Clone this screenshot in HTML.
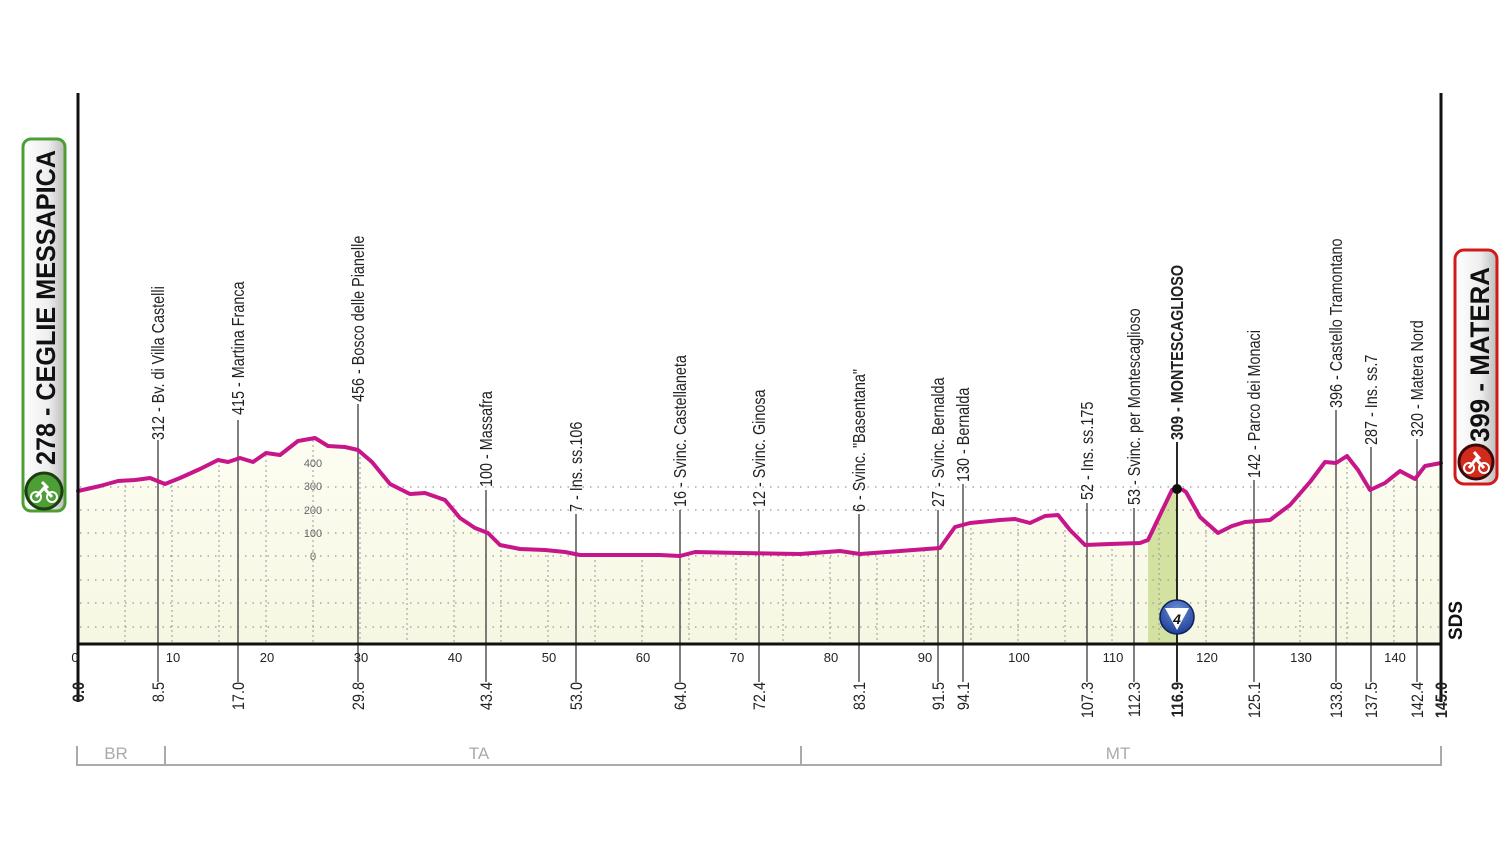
<!DOCTYPE html>
<html><head><meta charset="utf-8"><style>
html,body{margin:0;padding:0;background:#fff;}
svg{display:block}
.l{font-family:"Liberation Sans Narrow","Liberation Sans",sans-serif;font-size:18px;fill:#222;}
.t{font-family:"Liberation Sans Narrow","Liberation Sans",sans-serif;font-size:13px;fill:#222;}
.k{font-family:"Liberation Sans Narrow","Liberation Sans",sans-serif;font-size:17px;fill:#222;}
.r{font-family:"Liberation Sans Narrow","Liberation Sans",sans-serif;font-size:17px;fill:#aaa;}
.y{font-family:"Liberation Sans Narrow","Liberation Sans",sans-serif;font-size:11px;fill:#666;}
</style></head><body>
<svg width="1508" height="862" viewBox="0 0 1508 862" xmlns="http://www.w3.org/2000/svg">
<defs>
<linearGradient id="fg" x1="0" y1="0" x2="0" y2="1"><stop offset="0" stop-color="#fdfdf2"/><stop offset="1" stop-color="#f6f7e2"/></linearGradient>
<linearGradient id="bg" x1="0" y1="0" x2="1" y2="0"><stop offset="0" stop-color="#fff"/><stop offset="0.6" stop-color="#eee"/><stop offset="1" stop-color="#bbb"/></linearGradient>
<radialGradient id="bl" cx="0.5" cy="0.3" r="0.7"><stop offset="0" stop-color="#6b8fd8"/><stop offset="1" stop-color="#1f3f95"/></radialGradient>
</defs>
<path d="M78,644 L78,491 L100,486 L118,481 L135,480 L150,478 L165,484 L180,478 L200,469 L218,460 L228,462 L240,458 L253,462 L266,453 L280,455 L298,441 L315,438 L328,446 L345,447 L358,450 L372,462 L390,484 L410,494 L425,493 L445,500 L460,518 L475,528 L488,533 L500,545 L520,549 L545,550 L565,552 L580,555 L620,555 L660,555 L680,556 L695,552 L740,553 L800,554 L840,551 L860,554 L900,551 L940,548 L955,527 L970,523 L1000,520 L1015,519 L1030,523 L1045,516 L1058,515 L1070,530 L1085,545 L1110,544 L1140,543 L1148,540 L1160,515 L1172,490 L1186,492 L1200,517 L1218,533 L1232,526 L1245,522 L1270,520 L1290,505 L1310,482 L1325,462 L1336,463 L1347,456 L1358,470 L1370,490 L1385,483 L1400,471 L1415,479 L1425,466 L1441,463 L1441,644 Z" fill="url(#fg)"/>
<path d="M1148,644 L1148,540 L1160,515 L1172,490 L1177,489 L1177,644 Z" fill="#d3e2a0"/>
<g stroke="#999" stroke-width="1.2" stroke-dasharray="1.5,6">
<line x1="80" y1="487" x2="1440" y2="487"/><line x1="80" y1="510" x2="1440" y2="510"/><line x1="80" y1="533" x2="1440" y2="533"/><line x1="80" y1="556" x2="1440" y2="556"/><line x1="80" y1="580" x2="1440" y2="580"/><line x1="80" y1="603" x2="1440" y2="603"/><line x1="80" y1="627" x2="1440" y2="627"/>
</g>
<g stroke="#999" stroke-width="1" stroke-dasharray="2,3">
<line x1="125" y1="480" x2="125" y2="644"/><line x1="172" y1="480" x2="172" y2="644"/><line x1="219" y1="465" x2="219" y2="644"/><line x1="266" y1="455" x2="266" y2="644"/><line x1="313" y1="440" x2="313" y2="644"/><line x1="360" y1="452" x2="360" y2="644"/><line x1="407" y1="493" x2="407" y2="644"/><line x1="454" y1="505" x2="454" y2="644"/><line x1="501" y1="545" x2="501" y2="644"/><line x1="548" y1="550" x2="548" y2="644"/><line x1="595" y1="555" x2="595" y2="644"/><line x1="642" y1="555" x2="642" y2="644"/><line x1="689" y1="553" x2="689" y2="644"/><line x1="736" y1="553" x2="736" y2="644"/><line x1="783" y1="554" x2="783" y2="644"/><line x1="830" y1="552" x2="830" y2="644"/><line x1="877" y1="553" x2="877" y2="644"/><line x1="924" y1="550" x2="924" y2="644"/><line x1="971" y1="523" x2="971" y2="644"/><line x1="1018" y1="519" x2="1018" y2="644"/><line x1="1065" y1="525" x2="1065" y2="644"/><line x1="1112" y1="544" x2="1112" y2="644"/><line x1="1159" y1="518" x2="1159" y2="644"/><line x1="1206" y1="525" x2="1206" y2="644"/><line x1="1253" y1="522" x2="1253" y2="644"/><line x1="1300" y1="495" x2="1300" y2="644"/><line x1="1347" y1="457" x2="1347" y2="644"/><line x1="1394" y1="475" x2="1394" y2="644"/>
</g>
<g class="y" text-anchor="middle"><text x="313" y="467">400</text><text x="313" y="490">300</text><text x="313" y="514">200</text><text x="313" y="537">100</text><text x="313" y="560">0</text></g>
<g stroke="#555" stroke-width="1.5">
<line x1="158" y1="440" x2="158" y2="682"/><line x1="238" y1="420" x2="238" y2="682"/><line x1="358" y1="404" x2="358" y2="682"/><line x1="486" y1="490" x2="486" y2="682"/><line x1="576" y1="514" x2="576" y2="682"/><line x1="680" y1="510" x2="680" y2="682"/><line x1="759" y1="510" x2="759" y2="682"/><line x1="859" y1="514" x2="859" y2="682"/><line x1="938" y1="510" x2="938" y2="682"/><line x1="963" y1="484" x2="963" y2="682"/><line x1="1087" y1="503" x2="1087" y2="682"/><line x1="1134" y1="508" x2="1134" y2="682"/><line x1="1254" y1="480" x2="1254" y2="682"/><line x1="1336" y1="410" x2="1336" y2="682"/><line x1="1371" y1="447" x2="1371" y2="682"/><line x1="1417" y1="439" x2="1417" y2="682"/>
</g>
<line x1="1177" y1="442" x2="1177" y2="682" stroke="#111" stroke-width="1.8"/>
<g class="l">
<text transform="translate(164,440) rotate(-90) scale(0.8,1)">312 - Bv. di Villa Castelli</text>
<text transform="translate(244,415) rotate(-90) scale(0.8,1)">415 - Martina Franca</text>
<text transform="translate(364,402) rotate(-90) scale(0.8,1)">456 - Bosco delle Pianelle</text>
<text transform="translate(492,487) rotate(-90) scale(0.8,1)">100 - Massafra</text>
<text transform="translate(582,512) rotate(-90) scale(0.8,1)">7 - Ins. ss.106</text>
<text transform="translate(686,507) rotate(-90) scale(0.8,1)">16 - Svinc. Castellaneta</text>
<text transform="translate(765,507) rotate(-90) scale(0.8,1)">12 - Svinc. Ginosa</text>
<text transform="translate(865,512) rotate(-90) scale(0.8,1)">6 - Svinc. "Basentana"</text>
<text transform="translate(944,507) rotate(-90) scale(0.8,1)">27 - Svinc. Bernalda</text>
<text transform="translate(969,482) rotate(-90) scale(0.8,1)">130 - Bernalda</text>
<text transform="translate(1093,500) rotate(-90) scale(0.8,1)">52 - Ins. ss.175</text>
<text transform="translate(1140,505) rotate(-90) scale(0.8,1)">53 - Svinc. per Montescaglioso</text>
<text transform="translate(1183,440) rotate(-90) scale(0.8,1)" font-weight="bold">309 - MONTESCAGLIOSO</text>
<text transform="translate(1260,478) rotate(-90) scale(0.8,1)">142 - Parco dei Monaci</text>
<text transform="translate(1342,408) rotate(-90) scale(0.8,1)">396 - Castello Tramontano</text>
<text transform="translate(1377,445) rotate(-90) scale(0.8,1)">287 - Ins. ss.7</text>
<text transform="translate(1423,437) rotate(-90) scale(0.8,1)">320 - Matera Nord</text>
</g>
<path d="M78,491 L100,486 L118,481 L135,480 L150,478 L165,484 L180,478 L200,469 L218,460 L228,462 L240,458 L253,462 L266,453 L280,455 L298,441 L315,438 L328,446 L345,447 L358,450 L372,462 L390,484 L410,494 L425,493 L445,500 L460,518 L475,528 L488,533 L500,545 L520,549 L545,550 L565,552 L580,555 L620,555 L660,555 L680,556 L695,552 L740,553 L800,554 L840,551 L860,554 L900,551 L940,548 L955,527 L970,523 L1000,520 L1015,519 L1030,523 L1045,516 L1058,515 L1070,530 L1085,545 L1110,544 L1140,543 L1148,540 L1160,515 L1172,490 M1183,490 L1186,492 L1200,517 L1218,533 L1232,526 L1245,522 L1270,520 L1290,505 L1310,482 L1325,462 L1336,463 L1347,456 L1358,470 L1370,490 L1385,483 L1400,471 L1415,479 L1425,466 L1441,463" fill="none" stroke="#c7158a" stroke-width="4" stroke-linejoin="round" stroke-linecap="round"/>
<circle cx="1177" cy="489" r="5" fill="#111"/>
<circle cx="1177" cy="617" r="17" fill="url(#bl)" stroke="#0d225c" stroke-width="1.5"/>
<path d="M1165,608 L1189,608 L1177,630 Z" fill="#fff"/>
<text x="1177" y="624" text-anchor="middle" font-family="Liberation Sans" font-weight="bold" font-style="italic" font-size="14" fill="#111">4</text>
<line x1="78" y1="93" x2="78" y2="702" stroke="#111" stroke-width="3"/>
<line x1="1441" y1="93" x2="1441" y2="702" stroke="#111" stroke-width="3"/>
<line x1="77" y1="644" x2="1442" y2="644" stroke="#111" stroke-width="3"/>
<text transform="translate(1462,640) rotate(-90)" font-family="Liberation Sans" font-weight="bold" font-size="19" fill="#111">SDS</text>
<g class="t" text-anchor="middle">
<text x="75" y="662">0</text><text x="173" y="662">10</text><text x="267" y="662">20</text><text x="361" y="662">30</text><text x="455" y="662">40</text><text x="549" y="662">50</text><text x="643" y="662">60</text><text x="737" y="662">70</text><text x="831" y="662">80</text><text x="925" y="662">90</text><text x="1019" y="662">100</text><text x="1113" y="662">110</text><text x="1207" y="662">120</text><text x="1301" y="662">130</text><text x="1395" y="662">140</text>
</g>
<g class="k" text-anchor="end">
<text transform="translate(84,682) rotate(-90) scale(0.85,1)" font-weight="bold">0.0</text>
<text transform="translate(164,682) rotate(-90) scale(0.85,1)">8.5</text>
<text transform="translate(244,682) rotate(-90) scale(0.85,1)">17.0</text>
<text transform="translate(364,682) rotate(-90) scale(0.85,1)">29.8</text>
<text transform="translate(492,682) rotate(-90) scale(0.85,1)">43.4</text>
<text transform="translate(582,682) rotate(-90) scale(0.85,1)">53.0</text>
<text transform="translate(686,682) rotate(-90) scale(0.85,1)">64.0</text>
<text transform="translate(765,682) rotate(-90) scale(0.85,1)">72.4</text>
<text transform="translate(865,682) rotate(-90) scale(0.85,1)">83.1</text>
<text transform="translate(944,682) rotate(-90) scale(0.85,1)">91.5</text>
<text transform="translate(969,682) rotate(-90) scale(0.85,1)">94.1</text>
<text transform="translate(1093,682) rotate(-90) scale(0.85,1)">107.3</text>
<text transform="translate(1140,682) rotate(-90) scale(0.85,1)">112.3</text>
<text transform="translate(1183,682) rotate(-90) scale(0.85,1)" font-weight="bold">116.9</text>
<text transform="translate(1260,682) rotate(-90) scale(0.85,1)">125.1</text>
<text transform="translate(1342,682) rotate(-90) scale(0.85,1)">133.8</text>
<text transform="translate(1377,682) rotate(-90) scale(0.85,1)">137.5</text>
<text transform="translate(1423,682) rotate(-90) scale(0.85,1)">142.4</text>
<text transform="translate(1447,682) rotate(-90) scale(0.85,1)" font-weight="bold">145.0</text>
</g>
<g stroke="#aaa" stroke-width="2" fill="none">
<line x1="77" y1="765" x2="1441" y2="765"/>
<line x1="77" y1="746" x2="77" y2="766"/><line x1="165" y1="746" x2="165" y2="766"/><line x1="801" y1="746" x2="801" y2="766"/><line x1="1441" y1="746" x2="1441" y2="766"/>
</g>
<g class="r" text-anchor="middle"><text x="116" y="759">BR</text><text x="479" y="759">TA</text><text x="1118" y="759">MT</text></g>
<rect x="23" y="139" width="42" height="372" rx="8" fill="url(#bg)" stroke="#4c9e35" stroke-width="3"/>
<text transform="translate(55,465) rotate(-90)" font-family="Liberation Sans" font-weight="bold" font-size="27" fill="#111" textLength="315" lengthAdjust="spacingAndGlyphs">278 - CEGLIE MESSAPICA</text>
<circle cx="44" cy="491" r="18" fill="#4c9e35" stroke="#1d3d12" stroke-width="3"/>
<circle cx="36" cy="497" r="5" fill="none" stroke="#fff" stroke-width="2"/><circle cx="52" cy="497" r="5" fill="none" stroke="#fff" stroke-width="2"/><path d="M36,497 L44,488 L52,497 M42,482 L48,488" stroke="#fff" stroke-width="3" fill="none"/>
<rect x="1455" y="250" width="42" height="234" rx="9" fill="url(#bg)" stroke="#d11a1a" stroke-width="3"/>
<text transform="translate(1489,442) rotate(-90)" font-family="Liberation Sans" font-weight="bold" font-size="27" fill="#111" textLength="175" lengthAdjust="spacingAndGlyphs">399 - MATERA</text>
<circle cx="1476" cy="462" r="17" fill="#d32a1e" stroke="#3a0a08" stroke-width="3"/>
<circle cx="1469" cy="468" r="5" fill="none" stroke="#fff" stroke-width="2"/><circle cx="1484" cy="468" r="5" fill="none" stroke="#fff" stroke-width="2"/><path d="M1469,468 L1476,459 L1484,468 M1474,452 L1480,459" stroke="#fff" stroke-width="3" fill="none"/>
</svg>
</body></html>
